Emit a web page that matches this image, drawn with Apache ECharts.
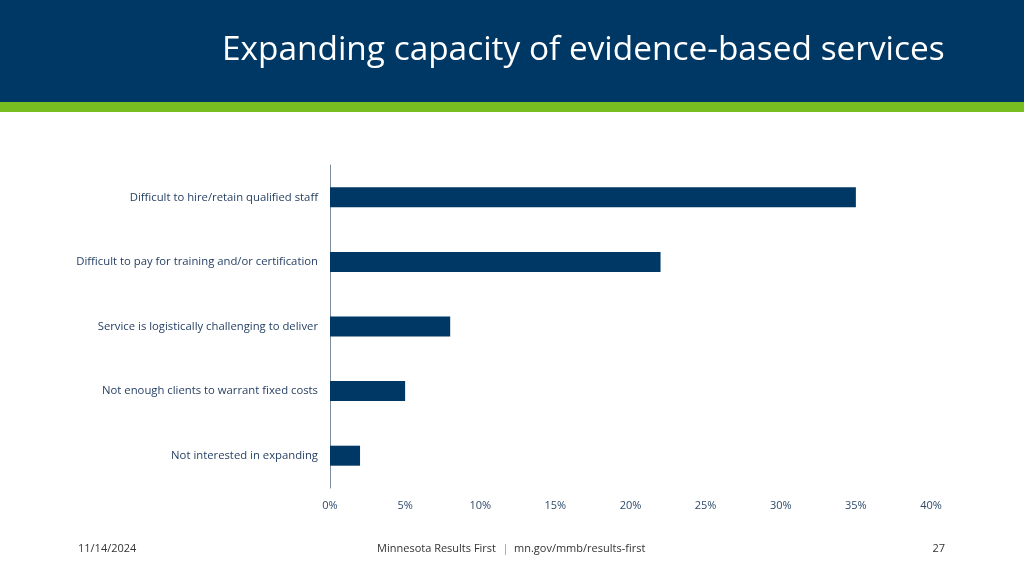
<!DOCTYPE html>
<html>
<head>
<meta charset="utf-8">
<script src="https://cdn.jsdelivr.net/npm/echarts@6/dist/echarts.min.js"></script>
<style>
html,body{margin:0;padding:0;background:#fff;}
#c{width:1024px;height:576px;}
</style>
</head>
<body>
<div id="c"></div>
<script>
const categories = [
  "Difficult to hire/retain qualified staff",
  "Difficult to pay for training and/or certification",
  "Service is logistically challenging to deliver",
  "Not enough clients to warrant fixed costs",
  "Not interested in expanding"
];
const values = [35, 22, 8, 5, 2];
const tickMin = 0, tickMax = 40, tickStep = 5;
const titleText = "Expanding capacity of evidence-based services";
const footerDate = "11/14/2024";
const footerLeft = "Minnesota Results First";
const footerRight = "mn.gov/mmb/results-first";
const pageNum = "27";

const font = "'Open Sans', 'Noto Sans', sans-serif";
const chart = echarts.init(document.getElementById('c'), null, {renderer: 'canvas'});
chart.setOption({
  animation: false,
  backgroundColor: '#ffffff',
  grid: {left: 330, right: 93, top: 165, bottom: 88, containLabel: false},
  xAxis: {
    type: 'value', min: tickMin, max: tickMax, interval: tickStep,
    axisLine: {show: false}, axisTick: {show: false}, splitLine: {show: false},
    axisLabel: {formatter: '{value}%', color: '#2E4A6B', fontSize: 11, fontFamily: font, margin: 12}
  },
  yAxis: {
    type: 'category', data: categories, inverse: true,
    axisLine: {show: true, lineStyle: {color: '#7F8C99', width: 1}},
    axisTick: {show: false},
    axisLabel: {color: '#1F3A5F', fontSize: 11.3, fontFamily: font, margin: 12}
  },
  series: [{
    type: 'bar', data: values, barWidth: 20,
    itemStyle: {color: '#003865'}
  }],
  graphic: [
    {type: 'rect', shape: {x: 0, y: 0, width: 1024, height: 102}, style: {fill: '#003865'}, z: -1},
    {type: 'rect', shape: {x: 0, y: 102, width: 1024, height: 10}, style: {fill: '#78BE20'}, z: -1},
    {type: 'text', x: 222, y: 50, style: {text: titleText, fill: '#ffffff', fontSize: 33.4, fontFamily: font, verticalAlign: 'middle'}},
    {type: 'text', x: 78, y: 549, style: {text: footerDate, fill: '#333333', fontSize: 11, fontFamily: font, verticalAlign: 'middle'}},
    {type: 'text', x: 496, y: 549, style: {text: footerLeft, fill: '#333333', fontSize: 11, fontFamily: font, align: 'right', verticalAlign: 'middle'}},
    {type: 'text', x: 505.5, y: 549, style: {text: '|', fill: '#78BE20', fontSize: 11, fontFamily: font, align: 'center', verticalAlign: 'middle'}},
    {type: 'text', x: 514, y: 549, style: {text: footerRight, fill: '#333333', fontSize: 11, fontFamily: font, align: 'left', verticalAlign: 'middle'}},
    {type: 'text', x: 945, y: 549, style: {text: pageNum, fill: '#333333', fontSize: 11, fontFamily: font, align: 'right', verticalAlign: 'middle'}}
  ]
});
</script>
</body>
</html>
